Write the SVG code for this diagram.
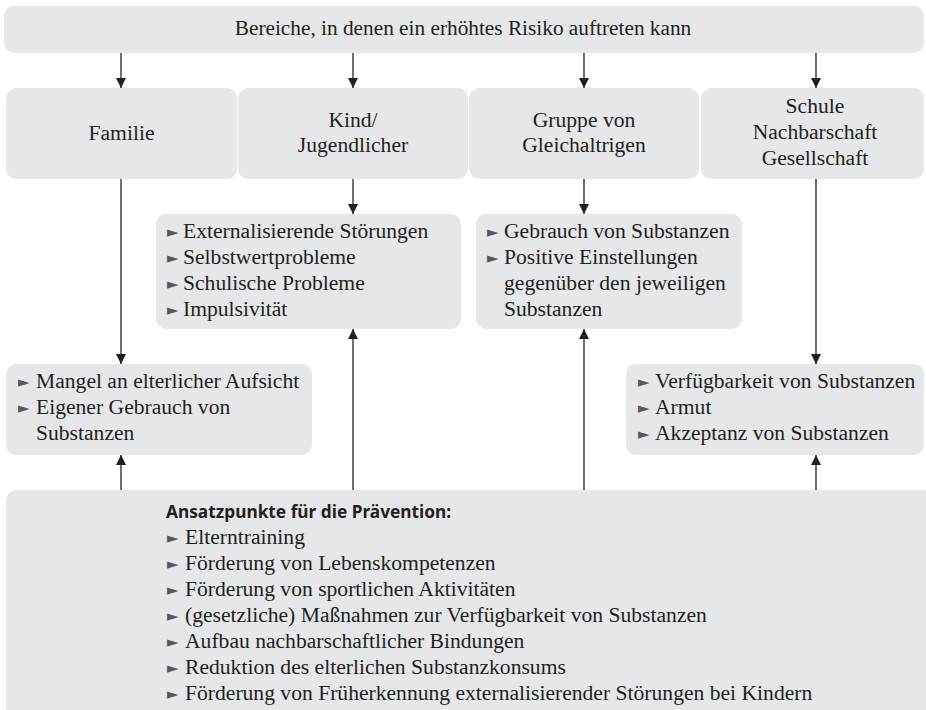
<svg xmlns="http://www.w3.org/2000/svg" width="926" height="710" viewBox="0 0 926 710">
<defs>
<style>
.box{fill:#e6e7e8;}
.t{font-family:'Liberation Serif','Tinos','DejaVu Serif',serif;font-size:21.6px;fill:#231f20;}
.tt{font-size:21.3px;}
.c{text-anchor:middle;}
.b{font-family:'DejaVu Sans',sans-serif;font-size:15px;fill:#58595b;}
.h{font-family:'Noto Sans','Open Sans',sans-serif;font-weight:bold;font-size:17.3px;fill:#231f20;}
.ln{stroke:#231f20;stroke-width:1.3;fill:none;}
</style>
<marker id="ah" viewBox="0 0 10 10" refX="10" refY="5" markerWidth="10" markerHeight="10" markerUnits="userSpaceOnUse" orient="auto">
<path d="M0,0 L10,5 L0,10 Z" fill="#231f20"/>
</marker>
</defs>
<rect width="926" height="710" fill="#fff"/>

<g id="connectors">
<line class="ln" x1="121" y1="53" x2="121" y2="88" marker-end="url(#ah)"/>
<line class="ln" x1="353" y1="53" x2="353" y2="88" marker-end="url(#ah)"/>
<line class="ln" x1="584" y1="53" x2="584" y2="88" marker-end="url(#ah)"/>
<line class="ln" x1="816" y1="53" x2="816" y2="88" marker-end="url(#ah)"/>
<line class="ln" x1="121" y1="179" x2="121" y2="364" marker-end="url(#ah)"/>
<line class="ln" x1="353" y1="179" x2="353" y2="214" marker-end="url(#ah)"/>
<line class="ln" x1="584" y1="179" x2="584" y2="214" marker-end="url(#ah)"/>
<line class="ln" x1="816" y1="179" x2="816" y2="364" marker-end="url(#ah)"/>
<line class="ln" x1="121" y1="490" x2="121" y2="455" marker-end="url(#ah)"/>
<line class="ln" x1="353" y1="490" x2="353" y2="329" marker-end="url(#ah)"/>
<line class="ln" x1="584" y1="490" x2="584" y2="329" marker-end="url(#ah)"/>
<line class="ln" x1="816" y1="490" x2="816" y2="455" marker-end="url(#ah)"/>
</g>

<g id="top">
<rect class="box" x="4" y="6" width="920" height="47" rx="10"/>
<text class="t tt c" x="463" y="35">Bereiche, in denen ein erhöhtes Risiko auftreten kann</text>
</g>

<g id="familie">
<rect class="box" x="6" y="88" width="231" height="91" rx="10"/>
<text class="t c" x="121.5" y="140">Familie</text>
</g>
<g id="kind">
<rect class="box" x="238" y="88" width="230" height="91" rx="10"/>
<text class="t c" x="353" y="127">Kind/</text>
<text class="t c" x="353" y="152">Jugendlicher</text>
</g>
<g id="gruppe">
<rect class="box" x="469" y="88" width="230" height="91" rx="10"/>
<text class="t c" x="584" y="127">Gruppe von</text>
<text class="t c" x="584" y="152">Gleichaltrigen</text>
</g>
<g id="schule">
<rect class="box" x="701" y="88" width="223" height="91" rx="10"/>
<text class="t c" x="815" y="113">Schule</text>
<text class="t c" x="815" y="139">Nachbarschaft</text>
<text class="t c" x="815" y="165">Gesellschaft</text>
</g>

<g id="kind-list">
<rect class="box" x="156" y="214" width="305" height="115" rx="10"/>
<text class="b" x="167" y="237">►</text><text class="t" x="183" y="238">Externalisierende Störungen</text>
<text class="b" x="167" y="263">►</text><text class="t" x="183" y="264">Selbstwertprobleme</text>
<text class="b" x="167" y="289">►</text><text class="t" x="183" y="290">Schulische Probleme</text>
<text class="b" x="167" y="315">►</text><text class="t" x="183" y="316">Impulsivität</text>
</g>

<g id="gruppe-list">
<rect class="box" x="476" y="214" width="266" height="115" rx="10"/>
<text class="b" x="487" y="237">►</text><text class="t" x="504" y="238">Gebrauch von Substanzen</text>
<text class="b" x="487" y="263">►</text><text class="t" x="504" y="264">Positive Einstellungen</text>
<text class="t" x="504" y="290">gegenüber den jeweiligen</text>
<text class="t" x="504" y="316">Substanzen</text>
</g>

<g id="familie-list">
<rect class="box" x="6" y="364" width="306" height="91" rx="10"/>
<text class="b" x="18" y="387">►</text><text class="t" x="36" y="388">Mangel an elterlicher Aufsicht</text>
<text class="b" x="18" y="413">►</text><text class="t" x="36" y="414">Eigener Gebrauch von</text>
<text class="t" x="36" y="440">Substanzen</text>
</g>

<g id="schule-list">
<rect class="box" x="626" y="364" width="298" height="91" rx="10"/>
<text class="b" x="638" y="387">►</text><text class="t" x="655" y="388">Verfügbarkeit von Substanzen</text>
<text class="b" x="638" y="413">►</text><text class="t" x="655" y="414">Armut</text>
<text class="b" x="638" y="439">►</text><text class="t" x="655" y="440">Akzeptanz von Substanzen</text>
</g>

<g id="praevention">
<rect class="box" x="6" y="490" width="940" height="240" rx="10"/>
<text class="h" x="166" y="518">Ansatzpunkte für die Prävention:</text>
<text class="b" x="167" y="543">►</text><text class="t" x="185" y="544">Elterntraining</text>
<text class="b" x="167" y="569">►</text><text class="t" x="185" y="570">Förderung von Lebenskompetenzen</text>
<text class="b" x="167" y="595">►</text><text class="t" x="185" y="596">Förderung von sportlichen Aktivitäten</text>
<text class="b" x="167" y="621">►</text><text class="t" x="185" y="622">(gesetzliche) Maßnahmen zur Verfügbarkeit von Substanzen</text>
<text class="b" x="167" y="647">►</text><text class="t" x="185" y="648">Aufbau nachbarschaftlicher Bindungen</text>
<text class="b" x="167" y="673">►</text><text class="t" x="185" y="674">Reduktion des elterlichen Substanzkonsums</text>
<text class="b" x="167" y="699">►</text><text class="t" x="185" y="700">Förderung von Früherkennung externalisierender Störungen bei Kindern</text>
</g>
</svg>
